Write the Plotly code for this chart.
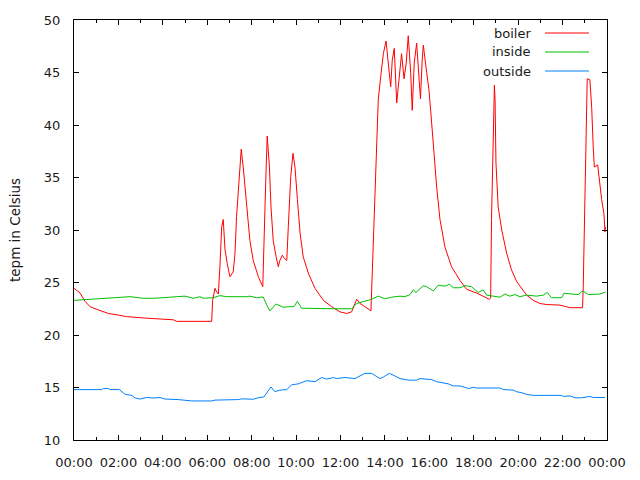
import plotly.graph_objects as go

# ---- data (hours since midnight, temperature in Celsius) ----
boiler_h = [0.0, 0.27, 0.5, 0.72, 1.02, 1.32, 1.55, 2.0, 2.37, 3.27, 3.87, 4.47, 4.62, 6.2,
            6.24, 6.35, 6.42, 6.5, 6.57, 6.65, 6.72, 6.8, 6.9, 7.02, 7.17, 7.25, 7.32, 7.44,
            7.53, 7.62, 7.78, 7.92, 8.07, 8.3, 8.5, 8.55, 8.63, 8.7, 8.73, 8.8, 8.87, 8.97,
            9.1, 9.2, 9.27, 9.38, 9.47, 9.58, 9.65, 9.76, 9.86, 9.95, 10.06, 10.18, 10.32,
            10.55, 10.85, 11.23, 11.6, 11.98, 12.28, 12.5, 12.73, 12.88, 13.1, 13.37, 13.43,
            13.48, 13.55, 13.63, 13.7, 13.81, 13.93, 14.05, 14.15, 14.26, 14.33, 14.42, 14.53,
            14.65, 14.75, 14.86, 14.96, 15.05, 15.16, 15.23, 15.32, 15.43, 15.52, 15.6, 15.68,
            15.73, 15.88, 15.98, 16.06, 16.18, 16.33, 16.48, 16.7, 17.0, 17.38, 17.68, 18.13,
            18.7, 18.76, 18.8, 18.85, 18.9, 18.93, 18.96, 19.0, 19.1, 19.26, 19.48, 19.7,
            19.93, 20.16, 20.38, 20.68, 20.98, 21.28, 21.88, 22.33, 22.9, 22.93, 22.98, 23.02,
            23.08, 23.11, 23.23, 23.31, 23.38, 23.43, 23.58, 23.65, 23.76, 23.86, 23.91, 23.93]
boiler_t = [24.45, 24.0, 23.2, 22.7, 22.45, 22.2, 22.05, 21.9, 21.75, 21.6, 21.5, 21.45, 21.3, 21.3,
            23.3, 24.45, 24.1, 23.9, 26.5, 30.3, 31.0, 28.1, 26.8, 25.55, 26.0, 27.8, 31.3, 35.1,
            37.7, 36.0, 32.2, 29.0, 27.1, 25.55, 24.6, 29.0, 34.4, 38.95, 38.0, 36.0, 32.2, 29.0,
            27.45, 26.5, 27.1, 27.6, 27.3, 27.1, 30.3, 35.1, 37.3, 36.0, 32.9, 29.7, 27.45,
            25.9, 24.45, 23.3, 22.7, 22.2, 22.05, 22.2, 23.4, 23.0, 22.7, 22.3, 25.9,
            28.7, 34.0, 38.9, 42.4, 44.6, 46.8, 48.0, 45.9, 43.65, 46.2, 47.3, 42.1,
            44.6, 46.8, 44.4, 45.9, 48.5, 45.0, 41.4, 45.9, 47.8, 45.2, 42.5, 46.2,
            47.6, 45.0, 43.4, 41.4, 37.9, 34.1, 31.0, 28.4, 26.5, 25.2, 24.35, 24.0,
            23.4, 23.5, 31.0, 36.0, 41.4, 43.8, 42.4, 36.4, 32.2, 30.0, 27.8, 26.2,
            25.1, 24.45, 23.8, 23.3, 23.0, 22.9, 22.85, 22.6, 22.6, 24.6, 31.0, 36.2,
            41.7, 44.4, 44.3, 41.7, 37.9, 36.0, 36.2, 34.7, 32.9, 31.6, 29.8, 30.3]

inside_h = [0.0, 0.95, 1.62, 2.52, 3.12, 3.65, 4.62, 5.0, 5.37, 5.67, 5.82, 6.27, 6.57, 6.87,
            7.78, 7.92, 8.22, 8.52, 8.68, 8.82, 9.1, 9.42, 9.72, 9.9, 10.06, 10.25, 11.68, 12.5,
            12.73, 13.03, 13.4, 13.7, 14.0, 14.3, 14.68, 14.9, 15.13, 15.28, 15.4, 15.73, 15.88,
            16.18, 16.4, 16.7, 16.9, 17.08, 17.38, 17.6, 17.9, 18.2, 18.43, 18.58, 18.88, 19.18,
            19.4, 19.63, 19.86, 20.08, 20.38, 20.83, 21.13, 21.31, 21.5, 21.96, 22.06, 22.41,
            22.71, 22.9, 23.16, 23.68, 23.94]
inside_t = [23.3, 23.45, 23.5, 23.65, 23.5, 23.5, 23.65, 23.7, 23.5, 23.65, 23.5, 23.55, 23.75, 23.65,
            23.65, 23.7, 23.55, 23.62, 22.85, 22.3, 22.95, 22.65, 22.7, 22.7, 23.2, 22.55, 22.5, 22.5,
            23.0, 23.17, 23.4, 23.7, 23.45, 23.6, 23.7, 23.65, 23.85, 24.3, 24.05, 24.7, 24.6,
            24.2, 24.75, 24.65, 24.83, 24.5, 24.5, 24.7, 24.6, 24.05, 24.3, 23.8, 23.7, 23.6,
            23.9, 23.7, 23.85, 23.65, 23.8, 23.7, 23.8, 24.05, 23.55, 23.55, 23.97, 23.9,
            23.85, 24.2, 23.85, 23.9, 24.1]

outside_h = [0.0, 1.25, 1.32, 1.55, 1.62, 2.04, 2.3, 2.6, 2.75, 2.97, 3.27, 3.6, 3.87, 4.1, 4.7,
             5.0, 5.3, 6.2, 6.35, 7.4, 7.55, 8.07, 8.3, 8.55, 8.75, 8.87, 9.05, 9.27, 9.58, 9.8,
             10.1, 10.48, 10.85, 11.15, 11.38, 11.68, 11.83, 12.2, 12.65, 12.95, 13.1, 13.4,
             13.55, 13.78, 13.93, 14.2, 14.45, 14.68, 15.05, 15.43, 15.58, 16.1, 16.33, 16.63,
             16.85, 17.08, 17.38, 17.6, 17.75, 17.98, 18.13, 19.18, 19.33, 19.78, 19.93, 20.16,
             20.38, 20.68, 21.96, 22.03, 22.33, 22.56, 22.86, 23.23, 23.38, 23.91]
outside_t = [14.8, 14.8, 14.9, 14.9, 14.8, 14.8, 14.35, 14.25, 14.0, 13.9, 14.05, 14.0, 14.05, 13.9, 13.85,
             13.78, 13.72, 13.72, 13.8, 13.85, 13.92, 13.88, 14.03, 14.1, 14.65, 15.05, 14.6, 14.75, 14.8, 15.25,
             15.35, 15.65, 15.55, 15.95, 15.8, 15.95, 15.85, 15.95, 15.85, 16.15, 16.35, 16.35,
             16.15, 15.85, 16.0, 16.35, 16.1, 15.85, 15.7, 15.7, 15.85, 15.75, 15.55, 15.45,
             15.35, 15.15, 15.15, 15.02, 14.9, 15.02, 14.95, 14.95, 14.8, 14.75, 14.6, 14.5,
             14.35, 14.25, 14.25, 14.15, 14.2, 14.02, 14.02, 14.15, 14.05, 14.05]

tick_hours = [0, 2, 4, 6, 8, 10, 12, 14, 16, 18, 20, 22, 24]
tick_labels = ["00:00", "02:00", "04:00", "06:00", "08:00", "10:00", "12:00",
               "14:00", "16:00", "18:00", "20:00", "22:00", "00:00"]
series_names = ["boiler", "inside", "outside"]
series_colors = ["#ff0000", "#00c000", "#0080ff"]
y_title = "tepm in Celsius"

FONT = "DejaVu Sans, sans-serif"
FS = 13
TXT = "#1a1a1a"

fig = go.Figure()
for name, hs, ts, col in zip(series_names, [boiler_h, inside_h, outside_h],
                             [boiler_t, inside_t, outside_t], series_colors):
    fig.add_trace(go.Scatter(x=hs, y=ts, mode="lines", name=name,
                             line=dict(color=col, width=1), showlegend=False))

axis_common = dict(showline=True, linecolor="black", linewidth=1, mirror="allticks",
                   ticks="inside", tickcolor="black", tickwidth=1, showgrid=False,
                   zeroline=False, tickfont=dict(family=FONT, size=FS, color=TXT))

# The page body adds an 8px offset, so margins are shifted accordingly.
fig.update_layout(
    width=640, height=480,
    margin=dict(l=66, r=41, t=12, b=48, autoexpand=False),
    plot_bgcolor="white", paper_bgcolor="white",
    font=dict(family=FONT, size=FS, color=TXT),
    xaxis=dict(range=[0, 24], tickmode="array", tickvals=tick_hours, ticktext=tick_labels,
               ticklen=5, ticklabelstandoff=10,
               minor=dict(dtick=1, tick0=0, ticks="inside", ticklen=3, tickcolor="black"),
               **axis_common),
    yaxis=dict(range=[10, 50], dtick=5, tick0=10, ticklen=5, ticklabelstandoff=10,
               **axis_common),
)

# y axis title
fig.add_annotation(text=y_title, xref="paper", yref="paper", x=(15 - 74) / 533, y=0.5,
                   xanchor="center", yanchor="middle", textangle=-90, showarrow=False,
                   font=dict(family=FONT, size=FS + 0.5, color=TXT))

# legend (gnuplot style: text right-aligned, sample line to its right)
leg_y = [33, 52, 71]
for name, col, yy in zip(series_names, series_colors, leg_y):
    py = 1 - (yy - 20) / 420
    fig.add_annotation(text=name, xref="paper", yref="paper", x=(533 - 74) / 533, y=py,
                       xanchor="right", yanchor="middle", showarrow=False,
                       font=dict(family=FONT, size=FS, color=TXT))
    fig.add_shape(type="line", xref="paper", yref="paper",
                  x0=(545 - 74) / 533, x1=(589 - 74) / 533, y0=py, y1=py,
                  line=dict(color=col, width=1))

fig.write_html("out.html")
